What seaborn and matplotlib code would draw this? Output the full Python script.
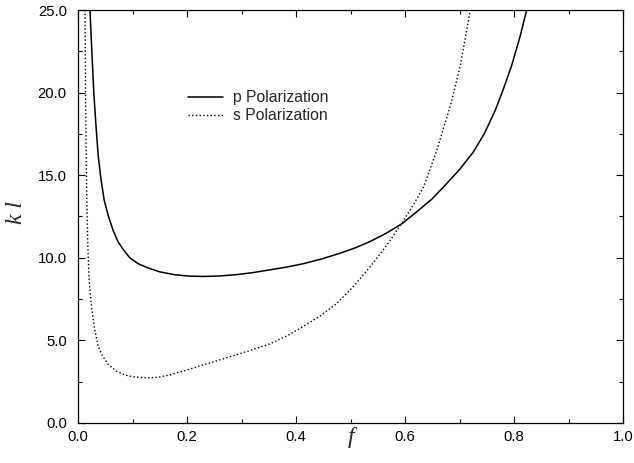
import pandas as pd
import matplotlib
matplotlib.use('Agg')
import matplotlib.pyplot as plt
from matplotlib.ticker import MultipleLocator, FormatStrFormatter
import seaborn as sns

# p polarization (solid)
p_f = [0.022, 0.025, 0.029, 0.033, 0.037, 0.042, 0.048, 0.056, 0.064, 0.073, 0.083,
       0.095, 0.110, 0.129, 0.150, 0.178, 0.205, 0.230, 0.260, 0.290, 0.320, 0.352,
       0.383, 0.413, 0.448, 0.481, 0.510, 0.536, 0.565, 0.594, 0.620, 0.649, 0.675,
       0.700, 0.725, 0.745, 0.765, 0.780, 0.795, 0.810, 0.823]
p_kl = [25.0, 22.8, 20.0, 18.0, 16.2, 14.8, 13.5, 12.5, 11.7, 11.0, 10.5,
        10.0, 9.65, 9.38, 9.15, 8.97, 8.89, 8.87, 8.90, 8.98, 9.10, 9.27,
        9.44, 9.64, 9.94, 10.28, 10.62, 10.99, 11.48, 12.06, 12.75, 13.55, 14.45,
        15.35, 16.40, 17.50, 18.90, 20.20, 21.60, 23.30, 25.0]

# s polarization (dotted)
s_f = [0.013, 0.014, 0.015, 0.016, 0.018, 0.020, 0.022, 0.025, 0.030, 0.037, 0.046,
       0.056, 0.070, 0.086, 0.100, 0.117, 0.132, 0.147, 0.170, 0.196, 0.230, 0.270,
       0.310, 0.352, 0.383, 0.413, 0.445, 0.475, 0.505, 0.536, 0.565, 0.594, 0.615,
       0.634, 0.658, 0.683, 0.701, 0.719]
s_kl = [25.0, 19.5, 16.5, 13.8, 10.8, 9.0, 8.0, 7.0, 5.8, 4.62, 4.0,
        3.52, 3.15, 2.91, 2.80, 2.75, 2.74, 2.77, 2.92, 3.17, 3.52, 3.92,
        4.33, 4.79, 5.27, 5.84, 6.50, 7.25, 8.25, 9.47, 10.70, 12.10, 13.20,
        14.30, 16.50, 19.20, 21.60, 24.90]

df_p = pd.DataFrame({'f': p_f, 'kl': p_kl})
df_s = pd.DataFrame({'f': s_f, 'kl': s_kl})

sns.set_style('ticks')
plt.rcParams['font.family'] = ['Liberation Sans', 'DejaVu Sans']

fig = plt.figure(figsize=(6.34, 4.63), dpi=100)
ax = fig.add_axes([0.123, 0.0864, 0.860, 0.892])

sns.lineplot(data=df_p, x='f', y='kl', sort=False, color='black', linewidth=1.1,
             label='p Polarization', ax=ax)
sns.lineplot(data=df_s, x='f', y='kl', sort=False, color='black', linewidth=1.0,
             linestyle=':', label='s Polarization', ax=ax)

ax.set_xlim(0, 1.0)
ax.set_ylim(0, 25.0)
ax.xaxis.set_major_locator(MultipleLocator(0.2))
ax.xaxis.set_minor_locator(MultipleLocator(0.1))
ax.yaxis.set_major_locator(MultipleLocator(5))
ax.yaxis.set_minor_locator(MultipleLocator(2.5))
ax.xaxis.set_major_formatter(FormatStrFormatter('%.1f'))
ax.yaxis.set_major_formatter(FormatStrFormatter('%.1f'))
ax.tick_params(which='both', direction='in', top=True, right=True, width=0.8,
               labelsize=10.7, colors='black')
ax.tick_params(which='major', length=5)
ax.tick_params(which='minor', length=3)
ax.tick_params(axis='x', which='major', pad=5)
ax.tick_params(axis='y', which='major', pad=8)
for sp in ax.spines.values():
    sp.set_linewidth(0.9)
    sp.set_color('black')

ax.set_xlabel('f', fontsize=17, family='Liberation Serif', style='italic')
ax.set_ylabel('k l', fontsize=17, family='Liberation Serif', style='italic')
ax.xaxis.set_label_coords(0.5, -0.01)
ax.yaxis.set_label_coords(-0.094, 0.51)

ax.legend(loc='upper left', bbox_to_anchor=(0.175, 0.84), frameon=False, fontsize=11.3,
          handlelength=2.23, handletextpad=0.64, labelspacing=0.18)

fig.savefig('out.png', dpi=100)
